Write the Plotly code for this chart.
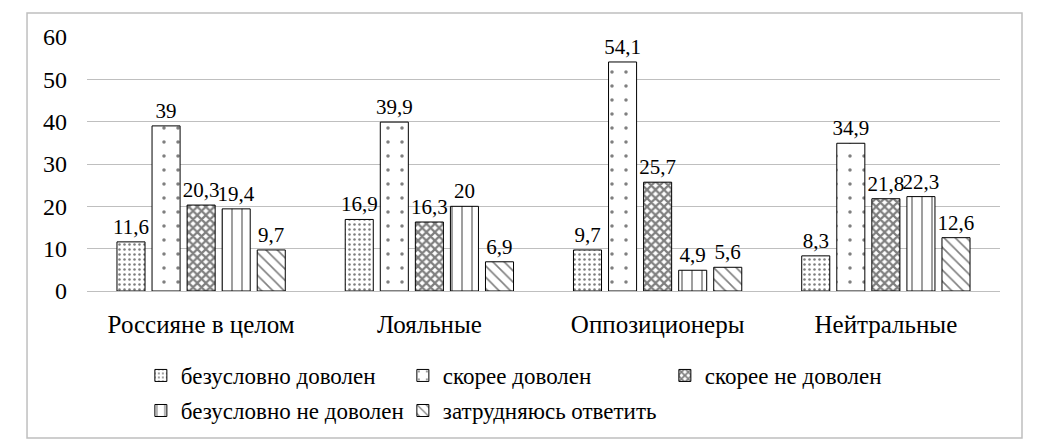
import plotly.graph_objects as go

categories = ["Россияне в целом", "Лояльные", "Оппозиционеры", "Нейтральные"]
series_names = ["безусловно доволен", "скорее доволен", "скорее не доволен",
                "безусловно не доволен", "затрудняюсь ответить"]
s1 = [11.6, 16.9, 9.7, 8.3]
s2 = [39, 39.9, 54.1, 34.9]
s3 = [20.3, 16.3, 25.7, 21.8]
s4 = [19.4, 20, 4.9, 22.3]
s5 = [9.7, 6.9, 5.6, 12.6]
series_values = [s1, s2, s3, s4, s5]
y_ticks = [0, 10, 20, 30, 40, 50, 60]

patterns = [
    dict(shape=".", size=5, solidity=0.2, fgcolor="black", bgcolor="white"),
    dict(shape=".", size=14, solidity=0.05, fgcolor="black", bgcolor="white"),
    dict(shape="x", size=6, solidity=0.6, fgcolor="black", bgcolor="white"),
    dict(shape="|", size=10, solidity=0.15, fgcolor="black", bgcolor="white"),
    dict(shape="\\", size=8, solidity=0.2, fgcolor="black", bgcolor="white"),
]
legend_ids = ["legend", "legend", "legend", "legend2", "legend2"]

FONT = "Liberation Serif"

fig = go.Figure()
for name, vals, pat, lg in zip(series_names, series_values, patterns, legend_ids):
    fig.add_trace(go.Bar(
        name=name, x=categories, y=vals,
        text=[str(v).replace(".", ",") for v in vals],
        textposition="outside", cliponaxis=False, constraintext="none",
        textfont=dict(family=FONT, size=21, color="black"),
        marker=dict(color="white", pattern=pat, line=dict(color="black", width=1)),
        legend=lg,
    ))

fig.update_layout(
    width=1054, height=447,
    margin=dict(l=79, r=62, t=29, b=164, autoexpand=False),
    paper_bgcolor="white", plot_bgcolor="white",
    font=dict(family=FONT, size=23, color="black"),
    barmode="group", bargap=0.232, bargroupgap=0.2,
    showlegend=True,
    legend=dict(orientation="h", x=0.059, y=-0.248, xanchor="left", yanchor="top",
                entrywidth=217, entrywidthmode="pixels",
                font=dict(family=FONT, size=23), itemwidth=30, tracegroupgap=0),
    legend2=dict(orientation="h", x=0.059, y=-0.386, xanchor="left", yanchor="top",
                 entrywidth=217, entrywidthmode="pixels",
                 font=dict(family=FONT, size=23), itemwidth=30),
    xaxis=dict(showline=False, ticks="", ticklabelstandoff=16,
               tickfont=dict(family=FONT, size=25)),
    yaxis=dict(range=[0, 60], tickvals=y_ticks, showgrid=True, gridcolor="#bfbfbf",
               gridwidth=1, zeroline=True, zerolinecolor="#bfbfbf", zerolinewidth=1,
               showline=False, ticks="", ticklabelstandoff=19,
               tickfont=dict(family=FONT, size=24)),
    shapes=[dict(type="rect", xref="paper", yref="paper",
                 x0=-0.0657, x1=1.0241, y0=-0.5787, y1=1.0945,
                 line=dict(color="#bfbfbf", width=1.5), fillcolor="rgba(0,0,0,0)")],
)

fig.write_html("out.html")
